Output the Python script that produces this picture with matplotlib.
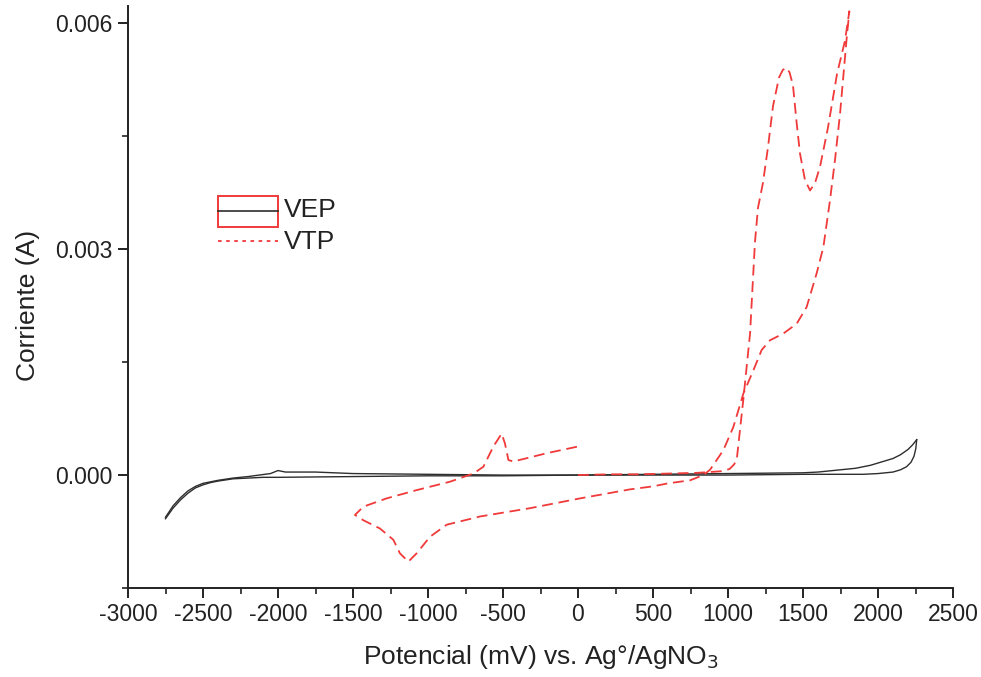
import matplotlib
matplotlib.use("Agg")
import matplotlib.pyplot as plt
from matplotlib.ticker import MultipleLocator, FormatStrFormatter
from matplotlib.patches import Rectangle
from matplotlib.lines import Line2D

plt.rcParams['font.family'] = ['Liberation Sans', 'DejaVu Sans']
plt.rcParams['axes.unicode_minus'] = False

# VEP voltammogram: two branches of the cycle (potential in mV, current in A)
vep_fwd_mv = [-2750, -2700, -2650, -2600, -2550, -2500, -2450, -2400, -2300, -2200,
              -2100, -2000, -1500, -1000, -500, 0, 500, 1000, 1500, 1700, 1900,
              2000, 2100, 2150, 2190, 2220, 2240, 2252, 2258]
vep_fwd_a = [-0.00058, -0.00044, -0.00033, -0.00024, -0.00017, -0.00013, -0.00010,
             -0.00008, -0.00005, -0.00004, -0.00003, -0.00003, -0.00002, -0.00001,
             -0.00001, 0.0, 0.0, 0.0, 0.00001, 0.00001, 0.00001, 0.00002, 0.00004,
             0.00007, 0.00011, 0.00017, 0.00025, 0.00035, 0.00047]
vep_rev_mv = [2258, 2230, 2200, 2150, 2100, 2050, 2000, 1950, 1900, 1850, 1800, 1700,
              1600, 1500, 1000, 500, 0, -500, -1000, -1500, -1750, -1950, -2000, -2050,
              -2200, -2300, -2400, -2500, -2550, -2600, -2650, -2700, -2750]
vep_rev_a = [0.00047, 0.00040, 0.00034, 0.00027, 0.00022, 0.00019, 0.00016, 0.00013,
             0.00011, 0.00009, 0.00008, 0.00006, 0.00004, 0.00003, 0.00002, 0.00001,
             0.0, 0.0, 0.00001, 0.00002, 0.00004, 0.00004, 0.00006, 0.00002, -0.00002,
             -0.00004, -0.00007, -0.00011, -0.00015, -0.00021, -0.00030, -0.00041,
             -0.00056]

# VTP voltammogram: full cycle starting and ending near 0 mV
vtp_mv = [0, 200, 400, 600, 800, 950, 1010, 1040, 1058, 1080, 1102, 1125, 1147, 1165,
          1180, 1200, 1233, 1267, 1300, 1340, 1365, 1387, 1410, 1433, 1458, 1480, 1513,
          1547, 1580, 1613, 1667, 1727, 1780, 1809,
          1791, 1747, 1713, 1680, 1636, 1591, 1524, 1458, 1369, 1280, 1224, 1169,
          1102, 1036, 969, 880, 836, 747, 600, 500, 347, 13, -320, -653, -876, -987,
          -1076, -1131, -1187, -1231, -1320, -1431, -1487,
          -1431, -1276, -1076, -853, -698, -631, -564, -509, -487, -464, -431, -209, 2]
vtp_a = [0.0, 0.00001, 0.00001, 0.00002, 0.00003, 0.00005, 0.00008, 0.00014, 0.00020,
         0.00060, 0.00100, 0.00145, 0.00188, 0.00255, 0.00310, 0.00355, 0.00388,
         0.00436, 0.00490, 0.00528, 0.00538, 0.00541, 0.00535, 0.00518, 0.00467,
         0.00427, 0.00392, 0.00378, 0.00388, 0.00409, 0.00462, 0.00533, 0.00577,
         0.00616,
         0.00580, 0.00480, 0.00418, 0.00365, 0.00303, 0.00268, 0.00223, 0.00201,
         0.00188, 0.00179, 0.00166, 0.00139, 0.00108, 0.00064, 0.00033, 0.00007, 0.0,
         -0.00007, -0.00011, -0.00015, -0.00019, -0.00031, -0.00044, -0.00055,
         -0.00066, -0.00082, -0.00104, -0.00115, -0.00104, -0.00086, -0.00071,
         -0.00060, -0.00053,
         -0.00042, -0.00031, -0.00020, -0.000088, 0.00002, 0.00011, 0.00038, 0.00055,
         0.00042, 0.00020, 0.00018, 0.00029, 0.00038]

series_labels = ["VEP", "VTP"]

fig = plt.figure(figsize=(9.81, 6.77), dpi=100)
ax = fig.add_axes([128 / 981, 1 - 588 / 677, (953 - 128) / 981, (588 - 6) / 677])

vep_color = "#2e2e2e"
vtp_color = "#f03a3a"
ax.plot(vep_fwd_mv, vep_fwd_a, color=vep_color, lw=1.0)
ax.plot(vep_rev_mv, vep_rev_a, color=vep_color, lw=1.0)
ax.plot(vtp_mv, vtp_a, color=vtp_color, lw=1.3, linestyle=(0, (6, 3.2)))

ax.set_xlim(-3000, 2500)
ax.set_ylim(-0.0015, 0.00623)

ax.xaxis.set_major_locator(MultipleLocator(500))
ax.xaxis.set_minor_locator(MultipleLocator(250))
ax.yaxis.set_major_locator(MultipleLocator(0.003))
ax.yaxis.set_minor_locator(MultipleLocator(0.0015))
ax.yaxis.set_major_formatter(FormatStrFormatter("%.3f"))

for side in ("top", "right"):
    ax.spines[side].set_visible(False)
for side in ("left", "bottom"):
    ax.spines[side].set_linewidth(1.4)
    ax.spines[side].set_color("#222222")

ax.tick_params(which="major", direction="out", length=7, width=1.4,
               labelsize=16.5, colors="#222222", pad=4)
ax.tick_params(which="minor", direction="out", length=4, width=1.2, colors="#222222")

ax.set_xlabel("Potencial (mV) vs. Ag°/AgNO$_3$", fontsize=19, color="#222222")
ax.set_ylabel("Corriente (A)", fontsize=19, color="#222222")
ax.xaxis.set_label_coords(0.5, -0.095)
ax.yaxis.set_label_coords(-0.107, 0.485)

# legend drawn in figure coordinates
def fx(px):
    return px / 981

def fy(py):
    return 1 - py / 677

fig.add_artist(Rectangle((fx(218), fy(227)), fx(278) - fx(218), fy(196) - fy(227),
                         transform=fig.transFigure, facecolor="none",
                         edgecolor=vtp_color, lw=1.4))
fig.add_artist(Line2D([fx(218), fx(278)], [fy(211), fy(211)], transform=fig.transFigure,
                      color=vep_color, lw=1.2))
fig.add_artist(Line2D([fx(218), fx(278)], [fy(241), fy(241)], transform=fig.transFigure,
                      color=vtp_color, lw=1.3, linestyle=(0, (2.0, 2.5))))
fig.text(fx(284), fy(210), series_labels[0], fontsize=19, va="center", ha="left",
         color="#222222")
fig.text(fx(284), fy(242), series_labels[1], fontsize=19, va="center", ha="left",
         color="#222222")

fig.savefig("out.png", dpi=100)
